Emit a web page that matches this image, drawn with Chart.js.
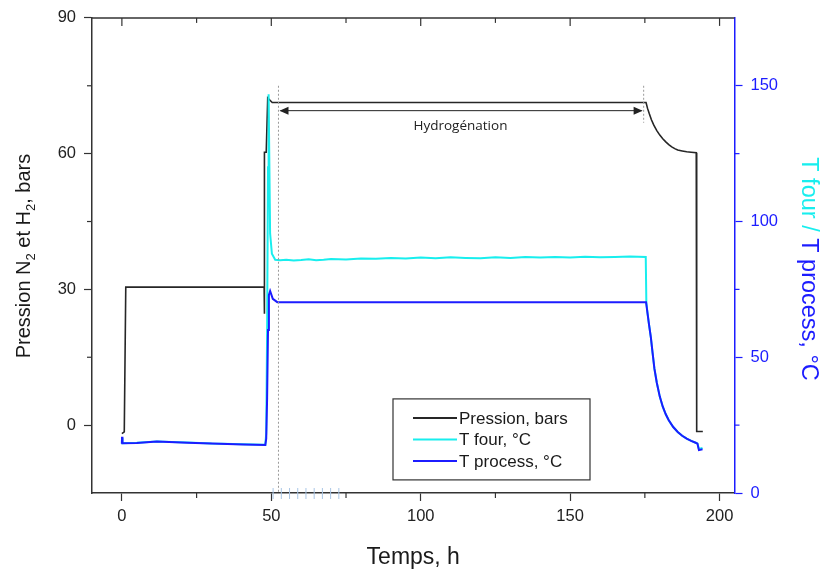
<!DOCTYPE html>
<html>
<head>
<meta charset="utf-8">
<script src="https://cdn.jsdelivr.net/npm/chart.js@4/dist/chart.umd.min.js"></script>
<style>
  body { margin: 0; background: #fff; }
  #wrap { width: 821px; height: 572px; }
</style>
</head>
<body>
<div id="wrap"><canvas id="graphe" width="821" height="572"></canvas></div>
<script>
// temps (h) et valeurs
const pressionT = [0, 0.8, 1.3, 47.6, 47.7, 47.7, 48.3, 48.8, 49.4, 50.3, 175.4, 175.9, 176.5, 177.2, 178.0, 179.0, 180.0, 181.0, 182.0, 183.0, 184.0, 185.0, 186.0, 187.5, 189.0, 190.5, 192.2, 192.3, 192.4, 194.4];
const pressionV = [-1.9, -1.5, 30.5, 30.5, 24.6, 60.3, 60.3, 72.3, 71.9, 71.3, 71.3, 70.0, 68.8, 67.5, 66.3, 65.1, 64.1, 63.3, 62.6, 62.0, 61.5, 61.1, 60.8, 60.6, 60.4, 60.3, 60.2, 60.2, -1.4, -1.4];

const fourT = [0, 0.05, 0.2, 5, 11.7, 22, 30, 40.7, 48.0, 48.3, 48.6, 48.9, 49.1, 49.6, 50.2, 51.3, 53, 55, 57.5, 60, 62.5, 65, 67.5, 70, 75, 80, 85, 90, 95, 100, 105, 110, 115, 120, 125, 130, 135, 140, 145, 150, 155, 160, 165, 170, 175.3, 175.5, 175.9, 176.4, 177.0, 177.6, 178.2, 179.0, 180.0, 181.0, 182.0, 183.0, 184.5, 186.0, 187.5, 189.0, 190.5, 192.0, 192.6, 193.1, 194.3];
const fourV = [18.2, 20.3, 18.3, 18.5, 19.0, 18.6, 18.2, 18.0, 17.8, 22, 60, 120, 146.9, 95.6, 88.1, 85.9, 85.7, 85.9, 85.6, 85.8, 86.1, 85.7, 85.9, 86.2, 86.0, 86.4, 86.3, 86.6, 86.4, 86.7, 86.5, 86.8, 86.6, 86.5, 86.8, 86.6, 86.9, 86.7, 86.9, 86.7, 87.0, 86.8, 86.9, 87.1, 86.9, 70.3, 66.2, 62.0, 57.4, 51.5, 45.8, 40.6, 35.5, 31.8, 29.0, 26.8, 24.3, 22.5, 21.1, 20.0, 19.2, 18.5, 18.2, 16.2, 16.6];

const processT = [0, 0.05, 0.2, 5, 11.7, 22, 30, 40.7, 48.0, 48.3, 48.6, 48.9, 49.2, 49.6, 50.5, 52, 175.4, 175.9, 176.4, 177.0, 177.6, 178.2, 179.0, 180.0, 181.0, 182.0, 183.0, 184.5, 186.0, 187.5, 189.0, 190.5, 192.0, 192.6, 193.1, 194.3];
const processV = [18.1, 20.7, 18.3, 18.4, 19.0, 18.5, 18.2, 17.9, 17.7, 20, 35, 60, 73, 74.4, 71.5, 70.3, 70.3, 66.2, 62.0, 57.4, 51.5, 45.8, 40.6, 35.5, 31.8, 29.0, 26.8, 24.3, 22.5, 21.1, 20.0, 19.2, 18.5, 18.2, 15.8, 16.1];

const ticksX = [0, 50, 100, 150, 200];
const ticksP = [0, 30, 60, 90];
const ticksT = [0, 50, 100, 150];
const mineursX = [25, 75, 125, 175];
const mineursP = [15, 45, 75];
const mineursT = [25, 75, 125];

const debutHydro = 52.4, finHydro = 174.6, niveauFleche = 69.5;

const NOIR = '#262626', CYAN = '#18eeee', BLEU = '#1c1cff';

function points(t, v) {
    return t.map((x, i) => ({ x: x, y: v[i] }));
}

const decor = {
    id: 'decor',
    afterDraw(chart) {
        const c = chart.ctx, a = chart.chartArea;
        const sx = chart.scales.x, sp = chart.scales.y, st = chart.scales.y1;
        c.save();

        // cadre du haut avec graduations vers l'intérieur
        c.strokeStyle = '#333'; c.lineWidth = 1.5;
        c.beginPath(); c.moveTo(a.left, a.top); c.lineTo(a.right, a.top); c.stroke();
        c.lineWidth = 1.2;
        ticksX.forEach(v => { const x = sx.getPixelForValue(v); c.beginPath(); c.moveTo(x, a.top); c.lineTo(x, a.top + 8); c.stroke(); });
        mineursX.forEach(v => { const x = sx.getPixelForValue(v); c.beginPath(); c.moveTo(x, a.top); c.lineTo(x, a.top + 5); c.stroke(); });

        // graduations mineures
        mineursX.forEach(v => { const x = sx.getPixelForValue(v); c.beginPath(); c.moveTo(x, a.bottom); c.lineTo(x, a.bottom + 5); c.stroke(); });
        mineursP.forEach(v => { const y = sp.getPixelForValue(v); c.beginPath(); c.moveTo(a.left, y); c.lineTo(a.left - 5, y); c.stroke(); });
        c.strokeStyle = BLEU;
        mineursT.forEach(v => { const y = st.getPixelForValue(v); c.beginPath(); c.moveTo(a.right, y); c.lineTo(a.right + 5, y); c.stroke(); });

        // petits traits bleu clair sous l'axe
        c.strokeStyle = '#a9c6e6'; c.lineWidth = 1;
        for (let v = 50.6; v < 75; v += 2.75) {
            const x = sx.getPixelForValue(v);
            c.beginPath(); c.moveTo(x, a.bottom - 5); c.lineTo(x, a.bottom + 6); c.stroke();
        }

        // lignes pointillées
        c.strokeStyle = '#9a9a9a'; c.lineWidth = 1; c.setLineDash([2, 2]);
        const x1 = sx.getPixelForValue(debutHydro), x2 = sx.getPixelForValue(finHydro);
        c.beginPath(); c.moveTo(x1, sp.getPixelForValue(75)); c.lineTo(x1, a.bottom); c.stroke();
        c.beginPath(); c.moveTo(x2, sp.getPixelForValue(75)); c.lineTo(x2, sp.getPixelForValue(66.8)); c.stroke();
        c.setLineDash([]);

        // flèche double
        const yf = sp.getPixelForValue(niveauFleche);
        c.strokeStyle = '#222'; c.fillStyle = '#222'; c.lineWidth = 1;
        c.beginPath(); c.moveTo(x1 + 2, yf); c.lineTo(x2 - 2, yf); c.stroke();
        c.beginPath(); c.moveTo(x1 + 1, yf); c.lineTo(x1 + 10, yf - 4); c.lineTo(x1 + 10, yf + 4); c.closePath(); c.fill();
        c.beginPath(); c.moveTo(x2 - 1, yf); c.lineTo(x2 - 10, yf - 4); c.lineTo(x2 - 10, yf + 4); c.closePath(); c.fill();
        c.font = '13.5px "Open Sans"'; c.textAlign = 'center'; c.textBaseline = 'middle';
        c.fillText('Hydrogénation', sx.getPixelForValue(113.3), yf + 15);

        // légende
        const lx = a.left + 301, ly = a.top + 381;
        c.strokeStyle = '#333'; c.lineWidth = 1.2;
        c.strokeRect(lx, ly, 197, 81);
        c.font = '17px "Liberation Sans", Arial'; c.textAlign = 'left'; c.textBaseline = 'middle';
        chart.data.datasets.forEach((d, i) => {
            const y = ly + 19 + i * 21.5;
            c.strokeStyle = d.borderColor; c.lineWidth = 2;
            c.beginPath(); c.moveTo(lx + 20, y); c.lineTo(lx + 64, y); c.stroke();
            c.fillStyle = '#1a1a1a';
            c.fillText(d.label, lx + 66, y + 1);
        });

        // titre axe gauche avec indices
        const morceaux = [['Pression N', 0], ['2', 1], [' et H', 0], ['2', 1], [', bars', 0]];
        const fN = '20px "Liberation Sans", Arial', fS = '13px "Liberation Sans", Arial';
        let total = 0;
        morceaux.forEach(m => { c.font = m[1] ? fS : fN; total += c.measureText(m[0]).width; });
        c.save();
        c.translate(30, 256); c.rotate(-Math.PI / 2);
        c.textAlign = 'left'; c.textBaseline = 'alphabetic'; c.fillStyle = '#1a1a1a';
        let pos = -total / 2;
        morceaux.forEach(m => {
            c.font = m[1] ? fS : fN;
            c.fillText(m[0], pos, m[1] ? 5 : 0);
            pos += c.measureText(m[0]).width;
        });
        c.restore();

        // titre axe droit en deux couleurs
        const droite = [['T four / ', CYAN], ['T process, °C', BLEU]];
        c.font = '23.5px "Liberation Sans", Arial';
        total = droite.reduce((s, m) => s + c.measureText(m[0]).width, 0);
        c.save();
        c.translate(802, 269); c.rotate(Math.PI / 2);
        c.textAlign = 'left'; c.textBaseline = 'alphabetic';
        pos = -total / 2;
        droite.forEach(m => {
            c.fillStyle = m[1];
            c.fillText(m[0], pos, 0);
            pos += c.measureText(m[0]).width;
        });
        c.restore();

        // titre axe x
        c.font = '23px "Liberation Sans", Arial'; c.fillStyle = '#1a1a1a';
        c.textAlign = 'center'; c.textBaseline = 'alphabetic';
        c.fillText('Temps, h', (a.left + a.right) / 2, 564);

        c.restore();
    }
};

const ctx = document.getElementById('graphe').getContext('2d');
new Chart(ctx, {
    type: 'scatter',
    data: {
        datasets: [{
            label: 'Pression, bars',
            data: points(pressionT, pressionV),
            yAxisID: 'y',
            borderColor: NOIR,
            borderWidth: 1.6,
            showLine: true,
            pointRadius: 0,
            order: 2
        }, {
            label: 'T four, °C',
            data: points(fourT, fourV),
            yAxisID: 'y1',
            borderColor: CYAN,
            borderWidth: 2,
            showLine: true,
            pointRadius: 0,
            order: 1
        }, {
            label: 'T process, °C',
            data: points(processT, processV),
            yAxisID: 'y1',
            borderColor: BLEU,
            borderWidth: 2,
            showLine: true,
            pointRadius: 0,
            order: 0
        }]
    },
    options: {
        responsive: false,
        animation: false,
        layout: { padding: { top: 17, left: 0, right: 0, bottom: 0 } },
        plugins: { legend: { display: false }, tooltip: { enabled: false } },
        scales: {
            x: {
                type: 'linear',
                min: -10,
                max: 205,
                afterBuildTicks: s => { s.ticks = ticksX.map(v => ({ value: v })); },
                afterFit: s => { s.height = 79; },
                grid: { drawOnChartArea: false, tickLength: 8, color: '#333', tickWidth: 1.2 },
                border: { color: '#333', width: 1.5 },
                ticks: { font: { size: 16.5, family: '"Liberation Sans", Arial' }, color: '#222', padding: 6 }
            },
            y: {
                position: 'left',
                min: -15,
                max: 90,
                afterBuildTicks: s => { s.ticks = ticksP.map(v => ({ value: v })); },
                afterFit: s => { s.width = 92; },
                grid: { drawOnChartArea: false, tickLength: 8, color: '#333', tickWidth: 1.2 },
                border: { color: '#333', width: 1.5 },
                ticks: { font: { size: 16.5, family: '"Liberation Sans", Arial' }, color: '#222', padding: 8 }
            },
            y1: {
                position: 'right',
                min: 0,
                max: 175,
                afterBuildTicks: s => { s.ticks = ticksT.map(v => ({ value: v })); },
                afterFit: s => { s.width = 86.5; },
                grid: { drawOnChartArea: false, tickLength: 8, color: BLEU, tickWidth: 1.2 },
                border: { color: BLEU, width: 1.5 },
                ticks: { font: { size: 16.5, family: '"Liberation Sans", Arial' }, color: BLEU, padding: 8 }
            }
        }
    },
    plugins: [decor]
});
</script>
</body>
</html>
